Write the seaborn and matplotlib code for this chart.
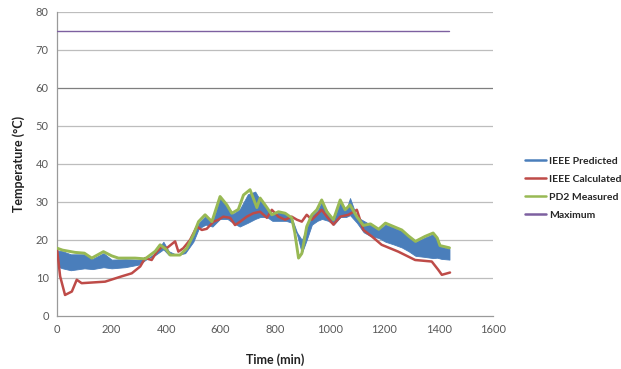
import seaborn as sns
import matplotlib.pyplot as plt

# PD2 measured (min, degC)
green_t = [0, 20, 66, 100, 127, 170, 200, 225, 286, 323, 360, 378, 400, 415,
           451, 476, 500, 519, 543, 568, 598, 623, 641, 665, 684, 708, 733,
           745, 770, 788, 812, 837, 861, 872, 886, 898, 916, 935, 953, 971,
           990, 1014, 1039, 1057, 1075, 1100, 1124, 1150, 1180, 1205, 1235,
           1265, 1290, 1315, 1350, 1380, 1395, 1405, 1440]
green_v = [17.8, 17.3, 16.7, 16.5, 15.2, 16.9, 15.8, 15.2, 15.2, 15.0, 17.0,
           18.7, 17.5, 16.0, 16.0, 17.8, 21.3, 24.8, 26.6, 24.8, 31.4, 29.2,
           27.0, 28.0, 31.8, 33.2, 28.5, 31.0, 28.5, 26.6, 27.4, 27.0, 25.8,
           22.0, 15.2, 16.4, 23.5, 26.6, 27.9, 30.5, 27.4, 25.3, 30.5, 27.9,
           29.2, 26.1, 23.8, 24.2, 22.8, 24.4, 23.5, 22.6, 21.0, 19.6, 20.9,
           21.8, 20.5, 18.5, 17.9]

# IEEE calculated
red_t = [0, 11, 29, 54, 72, 90, 176, 237, 274, 305, 323, 347, 366, 384, 402,
         433, 445, 463, 488, 513, 531, 549, 574, 592, 610, 635, 653, 672, 696,
         720, 745, 770, 788, 812, 837, 861, 880, 898, 916, 935, 953, 971, 990,
         1014, 1039, 1069, 1100, 1124, 1155, 1191, 1252, 1314, 1375, 1399,
         1412, 1442]
red_v = [17.4, 10.4, 5.5, 6.4, 9.5, 8.6, 9.0, 10.4, 11.2, 13.0, 15.2, 14.7,
         16.9, 18.2, 17.8, 19.6, 16.9, 17.8, 20.0, 23.5, 22.6, 22.9, 24.8,
         25.3, 26.1, 25.8, 23.9, 24.8, 26.1, 27.0, 27.4, 25.8, 27.9, 26.1,
         25.3, 26.1, 25.3, 24.8, 26.6, 25.3, 26.6, 27.9, 26.1, 24.0, 26.1,
         26.6, 27.9, 22.6, 20.9, 18.7, 16.9, 14.7, 14.3, 12.1, 10.8, 11.4]

# IEEE predicted: noisy band, read as lower / upper envelope
blue_t = [0, 20, 50, 100, 130, 170, 200, 250, 300, 330, 360, 390, 410, 440,
          470, 500, 520, 545, 570, 598, 625, 645, 670, 700, 727, 745, 770,
          790, 815, 840, 862, 880, 898, 916, 935, 955, 972, 995, 1015, 1040,
          1060, 1075, 1100, 1125, 1150, 1180, 1205, 1235, 1265, 1290, 1315,
          1350, 1380, 1395, 1410, 1440]
blue_hi = [17.2, 17.0, 16.2, 16.2, 15.0, 16.5, 14.8, 14.9, 14.8, 15.0, 16.5,
           19.5, 17.0, 16.0, 17.0, 21.0, 24.5, 26.3, 24.5, 31.0, 29.0, 26.8,
           28.0, 32.0, 32.7, 30.5, 28.3, 26.5, 27.2, 26.8, 25.6, 22.0, 20.0,
           23.0, 26.3, 27.6, 30.0, 27.2, 25.2, 30.0, 27.7, 31.0, 26.0, 25.0,
           24.0, 22.6, 24.0, 23.2, 22.3, 20.8, 19.4, 20.6, 21.5, 20.2, 18.2,
           17.6]
blue_lo = [13.0, 12.5, 12.0, 12.5, 12.3, 12.8, 12.5, 12.8, 13.5, 15.0, 16.0,
           17.5, 16.0, 16.0, 16.5, 19.5, 23.0, 24.0, 23.5, 25.5, 25.5, 24.5,
           23.5, 24.5, 25.5, 26.0, 26.0, 25.0, 25.0, 25.0, 24.5, 21.5, 16.5,
           20.0, 24.0, 25.0, 25.5, 25.0, 24.0, 26.0, 26.0, 26.5, 24.5, 22.0,
           21.0, 20.5, 19.5, 18.8, 18.0, 17.0, 15.8, 15.5, 15.2, 15.3, 15.0,
           14.8]

max_t = [0, 1440]
max_v = [75, 75]

series_names = ["IEEE Predicted", "IEEE Calculated", "PD2 Measured", "Maximum"]
series_colors = ["#4A7EBB", "#BE4B48", "#98B954", "#7D60A0"]

sns.set_style("white")
plt.rcParams["font.family"] = ["Lato", "DejaVu Sans"]

fig = plt.figure(figsize=(6.21, 3.69), dpi=100)
ax = fig.add_axes([0.092, 0.144, 0.702, 0.824])

# horizontal grid (the 60 line is darker in the original)
for yv in range(10, 81, 10):
    ax.axhline(yv, color="#7f7f7f" if yv == 60 else "#BDBDBD", lw=0.9, zorder=0)

ax.fill_between(blue_t, blue_lo, blue_hi, color=series_colors[0], lw=0.6,
                edgecolor=series_colors[0], zorder=2)
sns.lineplot(x=red_t, y=red_v, ax=ax, color=series_colors[1], lw=1.8,
             sort=False, zorder=3)
sns.lineplot(x=green_t, y=green_v, ax=ax, color=series_colors[2], lw=2.1,
             sort=False, zorder=4)
sns.lineplot(x=max_t, y=max_v, ax=ax, color=series_colors[3], lw=1.0, zorder=4)

ax.set_xlim(0, 1600)
ax.set_ylim(0, 80)
ax.set_xticks(range(0, 1601, 200))
ax.set_yticks(range(0, 81, 10))
ax.tick_params(axis="both", length=0, labelsize=8, colors="#595959", pad=6)

for side in ["top", "right"]:
    ax.spines[side].set_visible(False)
for side in ["left", "bottom"]:
    ax.spines[side].set_color("#9a9a9a")
    ax.spines[side].set_linewidth(0.9)

ax.set_xlabel("Time (min)", fontsize=9, fontweight="bold", color="#222222", labelpad=13)
ax.set_ylabel("Temperature (°C)", fontsize=9, fontweight="bold", color="#222222", labelpad=8)

handles = [plt.Line2D([], [], color=c, lw=1.8) for c in series_colors]
fig.legend(handles, series_names, loc="center left", bbox_to_anchor=(0.83, 0.49),
           frameon=False, handlelength=2.0, handletextpad=0.3,
           labelspacing=0.85, prop={"weight": "bold", "size": 7.5})

fig.savefig("out.png", dpi=100)
